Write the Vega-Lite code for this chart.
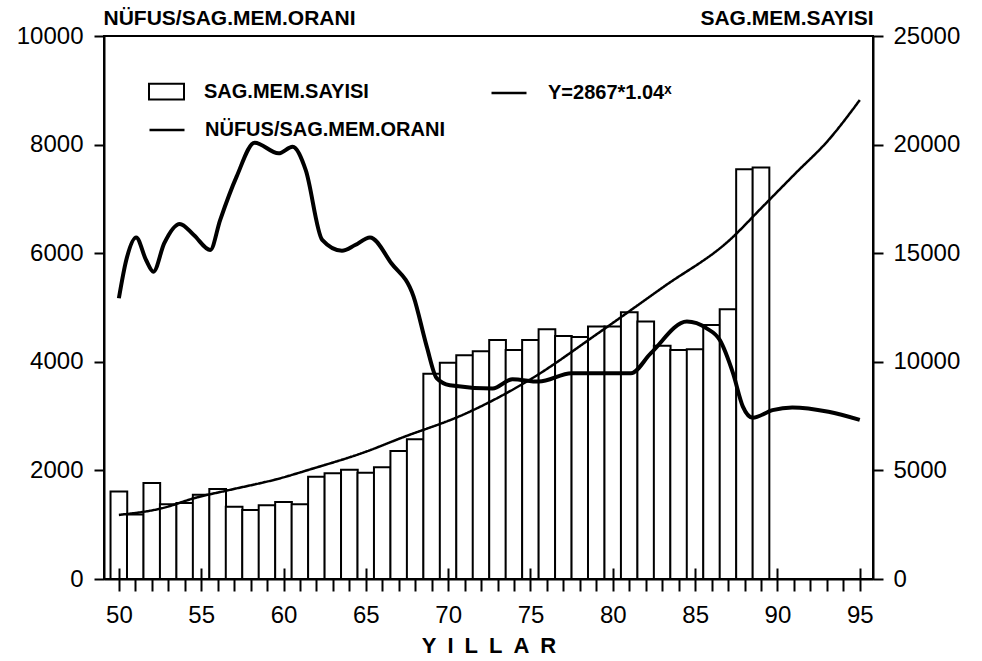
{
  "$schema": "https://vega.github.io/schema/vega-lite/v6.json",
  "width": 769,
  "height": 543,
  "autosize": "none",
  "padding": {"left": 104, "top": 36, "right": 109, "bottom": 82},
  "background": "white",
  "config": {
    "font": "Liberation Sans",
    "view": {"stroke": "black", "strokeWidth": 2},
    "axis": {
      "domainColor": "black", "domainWidth": 2, "tickColor": "black", "tickWidth": 2,
      "labelColor": "black", "titleColor": "black", "grid": false,
      "labelFont": "Liberation Sans", "titleFont": "Liberation Sans",
      "labelFontSize": 24, "labelFlush": false, "labelOverlap": false, "format": "d"
    },
    "legend": {
      "labelFont": "Liberation Sans", "labelFontSize": 20, "labelFontWeight": "bold",
      "labelColor": "black", "labelLimit": 400
    }
  },
  "datasets": {
    "bars": [
      {"yil": 50, "sayi": 4030}, {"yil": 51, "sayi": 2970}, {"yil": 52, "sayi": 4420},
      {"yil": 53, "sayi": 3440}, {"yil": 54, "sayi": 3500}, {"yil": 55, "sayi": 3880},
      {"yil": 56, "sayi": 4140}, {"yil": 57, "sayi": 3330}, {"yil": 58, "sayi": 3180},
      {"yil": 59, "sayi": 3390}, {"yil": 60, "sayi": 3545}, {"yil": 61, "sayi": 3440},
      {"yil": 62, "sayi": 4710}, {"yil": 63, "sayi": 4865}, {"yil": 64, "sayi": 5035},
      {"yil": 65, "sayi": 4895}, {"yil": 66, "sayi": 5140}, {"yil": 67, "sayi": 5890},
      {"yil": 68, "sayi": 6430}, {"yil": 69, "sayi": 9450}, {"yil": 70, "sayi": 9960},
      {"yil": 71, "sayi": 10300}, {"yil": 72, "sayi": 10480}, {"yil": 73, "sayi": 11000},
      {"yil": 74, "sayi": 10540}, {"yil": 75, "sayi": 11000}, {"yil": 76, "sayi": 11500},
      {"yil": 77, "sayi": 11190}, {"yil": 78, "sayi": 11140}, {"yil": 79, "sayi": 11620},
      {"yil": 80, "sayi": 11620}, {"yil": 81, "sayi": 12280}, {"yil": 82, "sayi": 11860},
      {"yil": 83, "sayi": 10740}, {"yil": 84, "sayi": 10540}, {"yil": 85, "sayi": 10580},
      {"yil": 86, "sayi": 11690}, {"yil": 87, "sayi": 12420}, {"yil": 88, "sayi": 18860},
      {"yil": 89, "sayi": 18940}
    ],
    "egri": [
      {"yil": 50, "deger": 2950}, {"yil": 52.6, "deger": 3255}, {"yil": 54.75, "deger": 3760},
      {"yil": 56.55, "deger": 4070}, {"yil": 60, "deger": 4680}, {"yil": 61.5, "deger": 5020},
      {"yil": 65, "deger": 5860}, {"yil": 67.1, "deger": 6480}, {"yil": 71.1, "deger": 7630},
      {"yil": 75.1, "deger": 9240}, {"yil": 79.1, "deger": 11310}, {"yil": 83.1, "deger": 13460},
      {"yil": 87.1, "deger": 15610}, {"yil": 89.1, "deger": 17140}, {"yil": 91.1, "deger": 18680},
      {"yil": 93.1, "deger": 20210}, {"yil": 95, "deger": 22050}
    ],
    "oran": [
      {"yil": 50, "oran": 5170}, {"yil": 50.45, "oran": 5875}, {"yil": 51.05, "oran": 6290},
      {"yil": 51.65, "oran": 5875}, {"yil": 52.1, "oran": 5660}, {"yil": 52.75, "oran": 6180},
      {"yil": 53.7, "oran": 6540}, {"yil": 54.55, "oran": 6335}, {"yil": 55.55, "oran": 6060},
      {"yil": 56.15, "oran": 6610}, {"yil": 57.15, "oran": 7410}, {"yil": 58.25, "oran": 8035},
      {"yil": 59.7, "oran": 7840}, {"yil": 60.55, "oran": 7960}, {"yil": 61.35, "oran": 7530},
      {"yil": 62.35, "oran": 6245}, {"yil": 63.55, "oran": 6045}, {"yil": 64.35, "oran": 6150},
      {"yil": 65.25, "oran": 6290}, {"yil": 66.55, "oran": 5815}, {"yil": 67.9, "oran": 5200},
      {"yil": 68.7, "oran": 4280}, {"yil": 69.3, "oran": 3700}, {"yil": 70.1, "oran": 3570},
      {"yil": 72.7, "oran": 3510}, {"yil": 73.9, "oran": 3680}, {"yil": 75.5, "oran": 3635},
      {"yil": 77.5, "oran": 3790}, {"yil": 81.1, "oran": 3790}, {"yil": 82.3, "oran": 4155},
      {"yil": 84.5, "oran": 4740}, {"yil": 85.7, "oran": 4615}, {"yil": 86.5, "oran": 4400},
      {"yil": 87.3, "oran": 3790}, {"yil": 87.9, "oran": 3175}, {"yil": 88.5, "oran": 2970},
      {"yil": 89.7, "oran": 3110}, {"yil": 90.9, "oran": 3160}, {"yil": 93.1, "oran": 3080},
      {"yil": 95, "oran": 2930}
    ]
  },
  "layer": [
    {
      "data": {"name": "bars"},
      "mark": {"type": "bar", "width": 16.7, "stroke": "black", "strokeWidth": 2},
      "encoding": {
        "x": {
          "field": "yil", "type": "quantitative",
          "scale": {"domain": [49.4, 95.5], "nice": false, "zero": false},
          "axis": {
            "orient": "bottom",
            "values": [50,51,52,53,54,55,56,57,58,59,60,61,62,63,64,65,66,67,68,69,70,71,72,73,74,75,76,77,78,79,80,81,82,83,84,85,86,87,88,89,90,91,92,93,94,95],
            "labelExpr": "datum.value % 5 === 0 ? datum.label : ''",
            "tickSize": 12, "labelPadding": 12,
            "title": "Y\u2002I\u2002L\u2002L\u2002A\u2002R",
            "titleFontSize": 22, "titleFontWeight": "bold",
            "titleBaseline": "top", "titleY": 56
          }
        },
        "y": {
          "field": "sayi", "type": "quantitative",
          "scale": {"domain": [0, 25000], "nice": false},
          "axis": {
            "orient": "right", "values": [0, 5000, 10000, 15000, 20000, 25000],
            "tickSize": 10, "labelPadding": 10,
            "title": "SAG.MEM.SAYISI", "titleAngle": 0, "titleAlign": "right",
            "titleBaseline": "alphabetic", "titleX": 0, "titleY": -12,
            "titleFontSize": 21, "titleFontWeight": "bold"
          }
        },
        "fill": {
          "datum": "SAG.MEM.SAYISI",
          "scale": {"range": ["white"]},
          "legend": {
            "title": null, "orient": "none", "legendX": 44, "legendY": 37,
            "symbolType": "M-1,-0.45H1V0.45H-1Z", "symbolSize": 1225,
            "symbolStrokeColor": "black", "symbolStrokeWidth": 2, "labelOffset": 19
          }
        }
      }
    },
    {
      "data": {"name": "egri"},
      "mark": {"type": "line", "stroke": "black", "strokeWidth": 2.5, "interpolate": "monotone"},
      "encoding": {
        "x": {
          "field": "yil", "type": "quantitative",
          "scale": {"domain": [49.4, 95.5], "nice": false, "zero": false},
          "axis": null
        },
        "y": {
          "field": "deger", "type": "quantitative",
          "scale": {"domain": [0, 25000], "nice": false}, "axis": null
        },
        "strokeDash": {
          "datum": "Y=2867*1.04\u02e3",
          "scale": {"range": [[1, 0]]},
          "legend": {
            "title": null, "orient": "none", "legendX": 386, "legendY": 38,
            "symbolType": "stroke", "symbolSize": 1225, "symbolStrokeColor": "black",
            "symbolStrokeWidth": 2.5, "labelOffset": 20
          }
        }
      }
    },
    {
      "data": {"name": "oran"},
      "mark": {"type": "line", "strokeWidth": 4, "interpolate": "monotone"},
      "encoding": {
        "x": {
          "field": "yil", "type": "quantitative",
          "scale": {"domain": [49.4, 95.5], "nice": false, "zero": false},
          "axis": {
            "orient": "bottom", "values": [50, 55, 60, 65, 70, 75, 80, 85, 90, 95],
            "tickSize": -11, "labels": false, "domain": false, "title": null, "zindex": 1
          }
        },
        "y": {
          "field": "oran", "type": "quantitative",
          "scale": {"domain": [0, 10000], "nice": false},
          "axis": {
            "orient": "left", "values": [0, 2000, 4000, 6000, 8000, 10000],
            "tickSize": 10, "labelPadding": 11,
            "title": "NÜFUS/SAG.MEM.ORANI", "titleAngle": 0, "titleAlign": "left",
            "titleBaseline": "alphabetic", "titleX": -1, "titleY": -12,
            "titleFontSize": 21, "titleFontWeight": "bold"
          }
        },
        "stroke": {
          "datum": "NÜFUS/SAG.MEM.ORANI",
          "scale": {"range": ["black"]},
          "legend": {
            "title": null, "orient": "none", "legendX": 44, "legendY": 75,
            "symbolType": "stroke", "symbolSize": 1225, "symbolStrokeWidth": 2.5,
            "labelOffset": 19
          }
        }
      }
    }
  ],
  "resolve": {"scale": {"y": "independent"}, "axis": {"x": "independent", "y": "independent"}}
}
